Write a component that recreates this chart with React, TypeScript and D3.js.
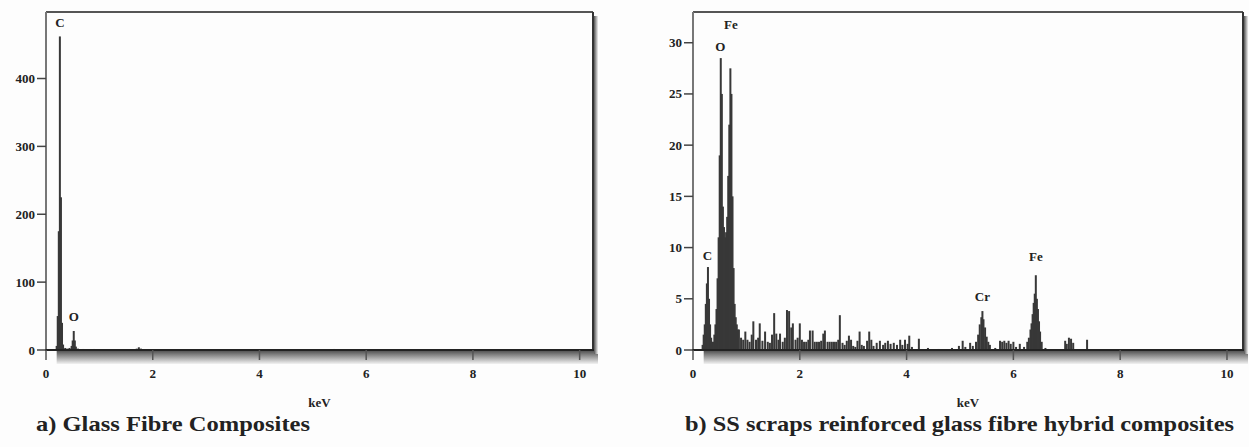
import React, { useEffect, useRef } from 'react';
import * as d3 from 'd3';

// a) glass fibre composite spectrum (keV, counts)
const leftKeV = [0.2, 0.22, 0.24, 0.26, 0.28, 0.3, 0.32, 0.36, 0.4, 0.44, 0.48, 0.5, 0.52, 0.54, 0.56, 0.6, 0.7, 0.9, 1.0, 1.2, 1.5, 1.7, 1.74, 1.78, 2.5, 5.4, 6.4];
const leftCounts = [6, 50, 175, 462, 225, 40, 8, 3, 2, 3, 6, 14, 28, 14, 5, 2, 1.5, 1.5, 1, 0.8, 0.8, 2, 4, 2, 0.5, 1.5, 0.8];

// b) SS scraps reinforced hybrid spectrum
const rightKeV = [
  0.18, 0.2, 0.22, 0.24, 0.26, 0.28, 0.3, 0.32, 0.34, 0.36, 0.38,
  0.4, 0.42, 0.44, 0.46, 0.48, 0.5, 0.52, 0.54, 0.56, 0.58, 0.6, 0.62, 0.64, 0.66, 0.68, 0.7, 0.72, 0.74, 0.76, 0.78, 0.8, 0.82, 0.84,
  0.86, 0.9, 0.94, 0.98, 1.02, 1.06, 1.1, 1.13, 1.18, 1.22, 1.25, 1.3, 1.35, 1.4, 1.44, 1.48, 1.52, 1.56, 1.6, 1.63, 1.68, 1.72, 1.76, 1.8, 1.84, 1.87,
  1.92, 1.96, 2.0, 2.04, 2.08, 2.12, 2.16, 2.19, 2.24, 2.28, 2.32, 2.36, 2.4, 2.44, 2.47, 2.52, 2.56, 2.6, 2.64, 2.68, 2.72, 2.75, 2.8, 2.84, 2.88, 2.92, 2.96,
  3.0, 3.04, 3.08, 3.12, 3.16, 3.2, 3.26, 3.3, 3.34, 3.38, 3.44, 3.5, 3.56, 3.6, 3.65, 3.7, 3.76, 3.82, 3.88, 3.92, 3.97, 4.02, 4.05, 4.1, 4.23,
  4.4, 4.6, 4.85, 4.98, 5.05, 5.1, 5.19, 5.24, 5.3, 5.34, 5.37, 5.4, 5.42, 5.44, 5.47, 5.5, 5.53, 5.56, 5.66, 5.75, 5.79, 5.83, 5.87, 5.91, 5.95, 6.0, 6.05, 6.12, 6.2,
  6.26, 6.29, 6.32, 6.34, 6.36, 6.38, 6.4, 6.42, 6.44, 6.46, 6.48, 6.5, 6.53, 6.6, 6.97, 7.0, 7.04, 7.08, 7.12, 7.38
];
const rightCounts = [
  0.5, 1.5, 2.5, 4.5, 6.5, 8.1, 5, 2.5, 1.2, 0.8, 0.8,
  1.5, 2.5, 4, 7, 11, 19, 28.5, 25, 14, 12, 11, 11.5, 13, 17, 22, 27.5, 25, 15, 8, 4.5, 3.2, 2.5, 2.0,
  2.0, 1.2, 1.0, 1.8, 1.0, 0.8, 1.5, 2.8, 1.0, 1.2, 2.6, 0.9, 1.8, 0.8, 0.7, 1.5, 3.6, 1.6, 1.0, 1.6, 0.8, 1.2, 3.9, 3.8, 2.2, 2.6,
  1.0, 1.2, 2.6, 1.0, 0.8, 0.8, 1.0, 1.9, 1.9, 0.8, 0.8, 0.8, 0.9, 1.6, 1.9, 0.8, 0.8, 0.8, 0.8, 0.8, 1.0, 3.4, 0.7, 0.5, 0.9, 1.4, 1.0,
  0.4, 0.3, 0.9, 1.8, 0.5, 0.4, 0.9, 1.8, 1.0, 0.4, 0.7, 0.9, 0.5, 0.7, 0.9, 0.6, 0.7, 0.5, 1.0, 0.5, 1.0, 0.6, 1.4, 0.3, 1.1,
  0.2, 0.1, 0.2, 0.4, 0.9, 0.3, 0.7, 0.4, 0.8, 1.5, 2.5, 3.2, 3.8, 3.0, 2.2, 1.3, 0.8, 0.5, 0.2, 0.9, 0.8, 0.9, 0.7, 0.9, 0.6, 0.8, 0.3, 0.6, 0.3,
  0.8, 1.2, 2.0, 2.6, 3.5, 4.6, 5.5, 7.3, 5.0, 4.0, 2.8, 1.8, 0.8, 0.2, 0.9, 0.6, 1.2, 1.1, 0.7, 1.0
];

const xTicks = [0, 2, 4, 6, 8, 10];
const leftYTicks = [0, 100, 200, 300, 400];
const rightYTicks = [0, 5, 10, 15, 20, 25, 30];

const leftPeakNames = ['C', 'O'];
const leftPeakKeV = [0.26, 0.52];
const leftPeakLabelAt = [482, 50];
const rightPeakNames = ['C', 'O', 'Fe', 'Cr', 'Fe'];
const rightPeakKeV = [0.27, 0.51, 0.71, 5.42, 6.42];
const rightPeakLabelAt = [9.2, 29.6, 31.8, 5.2, 9.1];

const font = '"Liberation Serif", "Times New Roman", Times, serif';

type Panel = {
  left: number;
  right: number;
  xMax: number;
  yMax: number;
  keV: number[];
  counts: number[];
  yTicks: number[];
  names: string[];
  peakKeV: number[];
  labelAt: number[];
  caption: string;
  capX: number;
  capW: number;
};

const App = () => {
  const chartRef = useRef<SVGSVGElement>(null);

  useEffect(() => {
    const svg = d3.select(chartRef.current);
    svg.selectAll('*').remove();

    const top = 12;
    const axisY = 350;

    const defs = svg.append('defs');
    const vg = defs.append('linearGradient').attr('id', 'shadowV').attr('x1', 0).attr('y1', 0).attr('x2', 0).attr('y2', 1);
    vg.append('stop').attr('offset', '0%').attr('stop-color', '#555');
    vg.append('stop').attr('offset', '100%').attr('stop-color', '#f2f2f2');
    const hg = defs.append('linearGradient').attr('id', 'shadowH').attr('x1', 0).attr('y1', 0).attr('x2', 1).attr('y2', 0);
    hg.append('stop').attr('offset', '0%').attr('stop-color', '#555');
    hg.append('stop').attr('offset', '100%').attr('stop-color', '#eee');

    const panels: Panel[] = [
      { left: 46, right: 593, xMax: 10.25, yMax: 498, keV: leftKeV, counts: leftCounts, yTicks: leftYTicks,
        names: leftPeakNames, peakKeV: leftPeakKeV, labelAt: leftPeakLabelAt, caption: 'a) Glass Fibre Composites', capX: 36, capW: 274 },
      { left: 693, right: 1243, xMax: 10.3, yMax: 33, keV: rightKeV, counts: rightCounts, yTicks: rightYTicks,
        names: rightPeakNames, peakKeV: rightPeakKeV, labelAt: rightPeakLabelAt, caption: 'b) SS scraps reinforced glass fibre hybrid composites', capX: 685, capW: 549 },
    ];

    panels.forEach((p) => {
      const x = d3.scaleLinear().domain([0, p.xMax]).range([p.left, p.right]);
      const y = d3.scaleLinear().domain([0, p.yMax]).range([axisY, top]);
      const g = svg.append('g');

      // 3d-ish shadows under the axis and right edge
      g.append('rect').attr('x', x(0.2)).attr('y', axisY + 1).attr('width', p.right + 5 - x(0.2)).attr('height', 13).attr('fill', 'url(#shadowV)');
      g.append('rect').attr('x', p.right + 1).attr('y', top + 4).attr('width', 4).attr('height', axisY - top).attr('fill', 'url(#shadowH)');

      // frame
      g.append('line').attr('x1', p.left).attr('x2', p.right).attr('y1', top).attr('y2', top).attr('stroke', '#555').attr('stroke-width', 2);
      g.append('line').attr('x1', p.left).attr('x2', p.left).attr('y1', top).attr('y2', axisY).attr('stroke', '#777').attr('stroke-width', 2);
      g.append('line').attr('x1', p.right).attr('x2', p.right).attr('y1', top).attr('y2', axisY).attr('stroke', '#333').attr('stroke-width', 2);

      // spectrum channels
      g.selectAll('rect.ch')
        .data(p.keV)
        .enter()
        .append('rect')
        .attr('class', 'ch')
        .attr('x', (d) => x(d) - 1)
        .attr('width', 2)
        .attr('y', (d, i) => y(p.counts[i]))
        .attr('height', (d, i) => axisY - y(p.counts[i]))
        .attr('fill', '#383838');

      g.append('line').attr('x1', p.left - 1).attr('x2', p.right + 1).attr('y1', axisY).attr('y2', axisY).attr('stroke', '#222').attr('stroke-width', 2);

      // x ticks
      xTicks.forEach((t) => {
        g.append('line').attr('x1', x(t)).attr('x2', x(t)).attr('y1', axisY).attr('y2', axisY + 10).attr('stroke', '#555').attr('stroke-width', 1.5);
        g.append('text').attr('x', x(t)).attr('y', axisY + 28).attr('text-anchor', 'middle')
          .attr('font-family', font).attr('font-weight', 'bold').attr('font-size', 13).attr('fill', '#222').text(t);
      });

      // y ticks
      p.yTicks.forEach((t) => {
        g.append('line').attr('x1', p.left - 9).attr('x2', p.left).attr('y1', y(t)).attr('y2', y(t)).attr('stroke', '#444').attr('stroke-width', 1.5);
        g.append('text').attr('x', p.left - 11).attr('y', y(t)).attr('text-anchor', 'end').attr('dominant-baseline', 'central')
          .attr('font-family', font).attr('font-weight', 'bold').attr('font-size', 13).attr('fill', '#222').text(t);
      });

      // peak labels
      p.names.forEach((n, i) => {
        g.append('text').attr('x', x(p.peakKeV[i])).attr('y', y(p.labelAt[i])).attr('text-anchor', 'middle').attr('dominant-baseline', 'central')
          .attr('font-family', font).attr('font-weight', 'bold').attr('font-size', 13).attr('fill', '#222').text(n);
      });

      g.append('text').attr('x', (p.left + p.right) / 2).attr('y', 407).attr('text-anchor', 'middle')
        .attr('font-family', font).attr('font-weight', 'bold').attr('font-size', 13).attr('fill', '#222').text('keV');

      g.append('text').attr('x', p.capX).attr('y', 431).attr('textLength', p.capW).attr('lengthAdjust', 'spacingAndGlyphs')
        .attr('font-family', font).attr('font-weight', 'bold').attr('font-size', 21).attr('fill', '#222').text(p.caption);
    });
  }, []);

  return (
    <svg ref={chartRef} width={1249} height={447} style={{ position: 'absolute', left: 0, top: 0, background: '#fdfdfd' }} />
  );
};

export default App;
